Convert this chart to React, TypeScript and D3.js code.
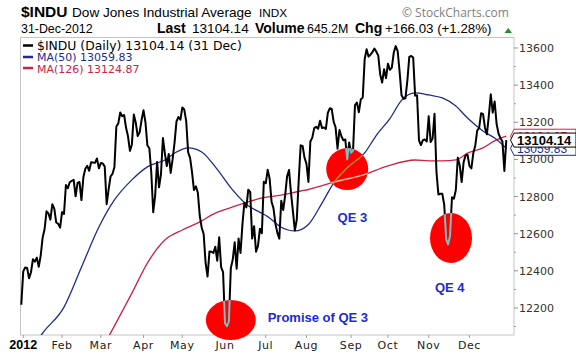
import React from "react";
import * as d3 from "d3";

// ---- Data: DJIA daily closes (Dec 30 2011 + 2012) ----
const dec2011 = [12217.56];
const jan = [12397.38, 12418.42, 12415.7, 12359.92, 12392.69, 12462.47, 12449.45, 12471.02, 12422.06, 12482.07, 12578.95, 12623.98, 12720.48, 12708.82, 12675.75, 12758.85, 12734.63, 12660.46, 12653.72, 12632.91];
const feb = [12716.46, 12705.41, 12862.23, 12845.13, 12878.2, 12883.95, 12890.46, 12801.23, 12874.04, 12878.28, 12780.95, 12904.08, 12949.87, 12965.69, 12938.67, 12984.69, 12982.95, 12981.51, 13005.12, 12952.07];
const mar = [12980.3, 12977.57, 12962.81, 12759.15, 12837.33, 12907.94, 12922.02, 12959.71, 13177.68, 13194.1, 13252.76, 13232.62, 13239.13, 13170.19, 13124.62, 13046.14, 13080.73, 13241.63, 13197.73, 13126.21, 13145.82, 13212.04];
const apr = [13264.49, 13199.55, 13074.75, 13060.14, 12929.59, 12715.93, 12805.39, 12986.58, 12849.59, 12921.41, 13115.54, 13032.75, 12964.1, 13029.26, 12927.17, 13001.56, 13090.72, 13204.62, 13228.31, 13213.63];
const may = [13279.32, 13268.57, 13206.59, 13038.27, 13008.53, 12932.09, 12835.06, 12855.04, 12820.6, 12695.35, 12632.0, 12598.55, 12442.49, 12369.38, 12504.48, 12502.81, 12496.15, 12529.75, 12454.83, 12580.69, 12419.86, 12393.45];
const jun = [12118.57, 12101.46, 12127.95, 12414.79, 12460.96, 12554.2, 12411.23, 12573.8, 12496.38, 12651.91, 12767.17, 12741.82, 12837.33, 12824.39, 12573.57, 12640.78, 12502.66, 12534.67, 12627.01, 12602.26, 12880.09];
const jul = [12871.39, 12943.82, 12896.67, 12772.47, 12736.29, 12653.12, 12604.53, 12573.27, 12777.09, 12727.21, 12805.54, 12908.7, 12943.36, 12822.57, 12721.46, 12617.32, 12676.05, 12887.93, 13075.66, 13073.01, 13008.68];
const aug = [12976.13, 12878.88, 13096.17, 13117.51, 13168.6, 13175.64, 13165.19, 13207.95, 13169.43, 13172.14, 13164.78, 13250.11, 13275.2, 13271.64, 13203.58, 13172.76, 13057.46, 13157.97, 13124.67, 13102.99, 13107.48, 13000.71, 13090.84];
const sep = [13035.94, 13047.48, 13292.0, 13306.64, 13254.29, 13323.36, 13333.35, 13539.86, 13593.37, 13553.1, 13564.64, 13577.96, 13596.93, 13579.47, 13558.92, 13457.55, 13413.51, 13485.97, 13437.13];
const oct = [13515.11, 13482.36, 13494.61, 13575.36, 13610.15, 13583.65, 13473.53, 13344.97, 13326.39, 13328.85, 13424.23, 13551.78, 13557.0, 13548.94, 13343.51, 13345.89, 13102.53, 13077.34, 13103.68, 13107.21, 13096.46];
const nov = [13232.62, 13093.16, 13112.44, 13245.68, 12932.73, 12811.32, 12815.39, 12815.08, 12756.18, 12570.95, 12542.38, 12588.31, 12795.96, 12788.51, 12836.89, 13009.68, 12967.37, 12878.13, 12985.11, 13021.82, 13025.58];
const dec = [12965.6, 12951.78, 13034.49, 13074.04, 13155.13, 13169.88, 13248.44, 13245.45, 13170.72, 13135.01, 13235.39, 13350.96, 13251.97, 13311.72, 13190.84, 13139.08, 13114.59, 13096.31, 12938.11, 13104.14];

const months2012 = [jan, feb, mar, apr, may, jun, jul, aug, sep, oct, nov, dec];
const monthLabels = ["2012", "Feb", "Mar", "Apr", "May", "Jun", "Jul", "Aug", "Sep", "Oct", "Nov", "Dec"];

// moving averages: [trading-day index, value]
const ma50Points: [number, number][] = [
  [6, 11990], [11, 12065], [22, 12205], [31, 12420], [40, 12636], [48, 12782], [57, 12890], [65, 12960],
  [74, 12997], [80, 13040], [86, 13062], [93, 13040], [100, 12960], [109, 12835], [117, 12750],
  [123, 12715], [127, 12692], [134, 12635], [141, 12615], [148, 12650], [155, 12765], [161, 12873],
  [168, 12955], [177, 13035], [183, 13130], [190, 13220], [196, 13318], [203, 13358], [210, 13347],
  [217, 13331], [224, 13288], [230, 13223], [238, 13153], [244, 13115], [250, 13059.83],
];
const ma126Points: [number, number][] = [
  [40, 11950], [46, 12065], [57, 12280], [65, 12442], [74, 12566], [83, 12620], [91, 12658],
  [100, 12711], [109, 12744], [117, 12771], [123, 12790], [134, 12808], [144, 12830], [148, 12838],
  [162, 12880], [176, 12916], [189, 12965], [203, 12997], [210, 12992], [217, 12992], [224, 12997],
  [230, 13034], [238, 13062], [244, 13100], [250, 13124.87],
];

const yTicks = [12200, 12400, 12600, 12800, 13000, 13200, 13400, 13600];
const yMinor = [12100, 12300, 12500, 12700, 12900, 13100, 13300, 13500];

const lastClose = 13104.14;
const lastMa50 = 13059.83;
const lastMa126 = 13124.87;

// annotations (trading-day index, value)
const circles: { i: number; v: number; rx: number; ry: number }[] = [
  { i: 108, v: 12135, rx: 25, ry: 20 },
  { i: 168, v: 12948, rx: 21, ry: 21 },
  { i: 221.5, v: 12577, rx: 21, ry: 25 },
];
const notes: { i: number; v: number; text: string }[] = [
  { i: 127, v: 12125, text: "Promise of QE 3" },
  { i: 163, v: 12663, text: "QE 3" },
  { i: 213.2, v: 12286, text: "QE 4" },
];

// ---- layout ----
const W = 576;
const H = 356;
const L = 20;
const R = 514;
const T = 38;
const B = 335;

const closes: number[] = [...dec2011, ...months2012.flat()];
const monthStarts: number[] = [];
{
  let idx = dec2011.length;
  for (const m of months2012) {
    monthStarts.push(idx);
    idx += m.length;
  }
}

const x = d3.scaleLinear().domain([0, closes.length - 1]).range([21.3, 506.3]);
const y = d3.scaleLinear().domain([12054.6, 13653.8]).range([B, T]);

const priceLine = d3
  .line<number>()
  .x((_, i) => x(i))
  .y((d) => y(d));
const maLine = d3
  .line<[number, number]>()
  .x((d) => x(d[0]))
  .y((d) => y(d[1]))
  .curve(d3.curveMonotoneX);

const SANS = "'Liberation Sans', Arial, sans-serif";
const VER = "'DejaVu Sans', Verdana, sans-serif";
const BLUE = "#1f2a8f";
const CRIMSON = "#cc2244";

function Tag({ v, stroke, color, bold, text }: { v: number; stroke: string; color: string; bold?: boolean; text: string }) {
  const cy = y(v);
  const h = 7;
  const pts = `${R - 3.5},${cy} ${R},${cy - h} ${W},${cy - h} ${W},${cy + h} ${R},${cy + h}`;
  return (
    <g>
      <polygon points={pts} fill="#fff" stroke={stroke} strokeWidth={1} />
      <text x={517} y={cy + 4.5} fontFamily={SANS} fontSize={bold ? 13 : 12} fontWeight={bold ? "bold" : "normal"} fill={color}>
        {text}
      </text>
    </g>
  );
}

export default function App() {
  const pricePath = priceLine(closes) || "";
  const ma50Path = maLine(ma50Points) || "";
  const ma126Path = maLine(ma126Points) || "";
  return (
    <div style={{ position: "absolute", left: 0, top: 0 }}>
      <svg width={W} height={H} style={{ display: "block", background: "#fff" }}>
        <defs>
          <clipPath id="plot">
            <rect x={L} y={T} width={R - L} height={B - T} />
          </clipPath>
          <clipPath id="circ">
            {circles.map((c, k) => (
              <ellipse key={k} cx={x(c.i)} cy={y(c.v)} rx={c.rx} ry={c.ry} />
            ))}
          </clipPath>
        </defs>

        {/* header */}
        <text x={21} y={17} fontFamily={SANS} fontSize={15.5} fontWeight="bold" fill="#000">$INDU</text>
        <text x={72} y={17} fontFamily={SANS} fontSize={13.6} fill="#000">Dow Jones Industrial Average</text>
        <text x={259} y={17} fontFamily={SANS} fontSize={11.8} fill="#000">INDX</text>
        <text x={402} y={17} fontFamily="'Open Sans', sans-serif" fontSize={12} fill="#808080">© StockCharts.com</text>

        <text x={21} y={33} fontFamily={SANS} fontSize={12.4} fill="#000">31-Dec-2012</text>
        <text x={157} y={33} fontFamily={SANS} fontSize={14} fontWeight="bold" fill="#000">Last</text>
        <text x={192} y={33} fontFamily={SANS} fontSize={13.6} fill="#000">13104.14</text>
        <text x={255} y={33} fontFamily={SANS} fontSize={14} fontWeight="bold" fill="#000">Volume</text>
        <text x={307} y={33} fontFamily={SANS} fontSize={12.4} fill="#000">645.2M</text>
        <text x={355} y={33} fontFamily={SANS} fontSize={14} fontWeight="bold" fill="#000">Chg</text>
        <text x={385} y={33} fontFamily={SANS} fontSize={13.3} fill="#000">+166.03 (+1.28%)</text>
        <polygon points="504.5,33 512,33 508.25,28" fill="#2a8a2a" />

        {/* plot frame */}
        <rect x={L + 0.5} y={T - 0.5} width={R - L - 0.5} height={B - T + 0.5} fill="#fff" stroke="#c4c4c4" strokeWidth={1} />

        {/* y axis ticks & labels */}
        {yMinor.map((v) => (
          <line key={"m" + v} x1={R} x2={R + 2} y1={y(v)} y2={y(v)} stroke="#a0a0a0" />
        ))}
        {yTicks.map((v) => (
          <g key={v}>
            <line x1={R} x2={R + 4} y1={y(v)} y2={y(v)} stroke="#909090" />
            <text x={519} y={y(v) + 4} fontFamily={VER} fontSize={11} fill="#333">{v}</text>
          </g>
        ))}

        {/* x axis ticks & labels */}
        {monthStarts.map((i, k) => (
          <g key={k}>
            <line x1={x(i)} x2={x(i)} y1={B} y2={B + 3} stroke="#a0a0a0" />
            {k === 0 ? (
              <text x={x(i)} y={349} textAnchor="middle" fontFamily={SANS} fontSize={12.5} fontWeight="bold" fill="#000">
                {monthLabels[k]}
              </text>
            ) : (
              <text x={x(i)} y={349} textAnchor="middle" fontFamily={VER} fontSize={11} fill="#222" letterSpacing={0.6}>
                {monthLabels[k]}
              </text>
            )}
          </g>
        ))}

        {/* lines */}
        <g clipPath="url(#plot)">
          <path d={ma126Path} fill="none" stroke={CRIMSON} strokeWidth={1.3} />
          <path d={ma50Path} fill="none" stroke={BLUE} strokeWidth={1.3} />
          <path d={pricePath} fill="none" stroke="#000" strokeWidth={2} strokeLinejoin="round" />
        </g>

        {/* red circles */}
        {circles.map((c, k) => (
          <ellipse key={k} cx={x(c.i)} cy={y(c.v)} rx={c.rx} ry={c.ry} fill="#fe0000" />
        ))}
        <g clipPath="url(#circ)">
          <g clipPath="url(#plot)">
            <path d={ma126Path} fill="none" stroke="#f6c8a4" strokeWidth={1.3} />
            <path d={ma50Path} fill="none" stroke="#a09a30" strokeWidth={1.3} />
            <path d={pricePath} fill="none" stroke="#5cc4cc" strokeWidth={2} strokeLinejoin="round" />
            <path d={pricePath} fill="none" stroke="#9cb4b4" strokeWidth={0.7} strokeLinejoin="round" />
          </g>
        </g>

        {notes.map((n, k) => (
          <text key={k} x={x(n.i)} y={y(n.v)} fontFamily={SANS} fontSize={13} fontWeight="bold" fill="#1a2ad6">
            {n.text}
          </text>
        ))}

        {/* legend */}
        <line x1={23} x2={33} y1={45.5} y2={45.5} stroke="#000" strokeWidth={2.5} />
        <text x={37} y={50} fontFamily={VER} fontSize={12.4} fill="#000">$INDU (Daily) 13104.14 (31 Dec)</text>
        <line x1={23} x2={33} y1={57} y2={57} stroke={BLUE} strokeWidth={2.5} />
        <text x={37} y={61} fontFamily={VER} fontSize={11} fill={BLUE}>MA(50) 13059.83</text>
        <line x1={23} x2={33} y1={68} y2={68} stroke={CRIMSON} strokeWidth={2.5} />
        <text x={37} y={72.5} fontFamily={VER} fontSize={11} fill={CRIMSON}>MA(126) 13124.87</text>

        {/* last-value tags */}
        <Tag v={lastMa126} stroke={CRIMSON} color={CRIMSON} text={lastMa126.toFixed(2)} />
        <Tag v={lastMa50} stroke={BLUE} color={BLUE} text={lastMa50.toFixed(2)} />
        <Tag v={lastClose} stroke="#000" color="#000" bold text={lastClose.toFixed(2)} />
      </svg>
    </div>
  );
}
